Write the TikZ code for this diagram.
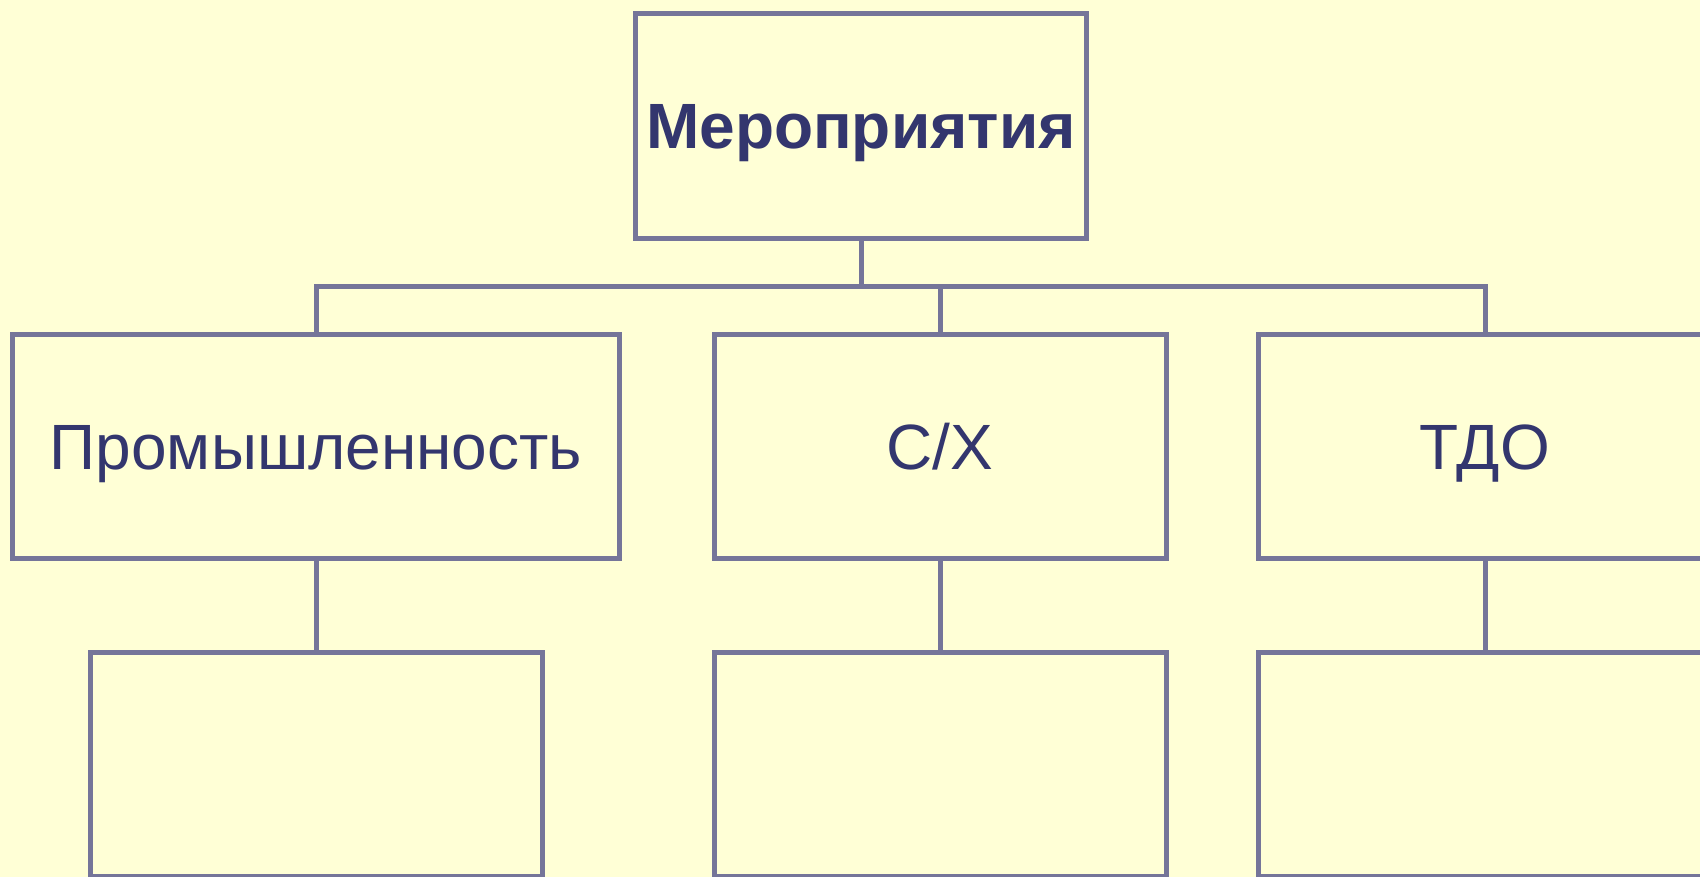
\documentclass[tikz,border=0pt]{standalone}
\usepackage{fontspec}
\setmainfont{Liberation Sans}
\definecolor{bgyellow}{HTML}{FFFFD6}
\definecolor{boxline}{HTML}{757599}
\definecolor{boxtext}{HTML}{33366E}
\tikzset{
  unit/.style={draw=boxline, line width=5pt, fill=bgyellow, text=boxtext,
    inner sep=0pt, minimum height=224pt, minimum width=452pt,
    text height=46pt, text depth=0pt,
    font=\fontsize{64}{72}\selectfont},
  link/.style={draw=boxline, line width=5pt},
}
\begin{document}
\begin{tikzpicture}[x=1pt,y=-1pt]
  \fill[bgyellow] (0,0) rectangle (1700,877);
  \clip (0,0) rectangle (1700,877);
  \draw
    (861,126) node[unit, minimum width=451pt, minimum height=225pt,
      font=\bfseries\fontsize{64}{72}\selectfont] (top){Мероприятия}
    (316,446) node[unit, minimum width=607pt] (ind){Промышленность}
    (940,446) node[unit] (agr){С/Х}
    (1485,446) node[unit, minimum width=454pt] (tdo){ТДО}
    (316,764) node[unit] (indsub){}
    (940,764) node[unit] (agrsub){}
    (1485,764) node[unit, minimum width=454pt] (tdosub){};
  \coordinate (bus) at (861,287);
  \begin{scope}[link]
    \draw (top.south) -- (bus);
    \draw (ind.north) |- (bus) -| (tdo.north);
    \draw (agr.north) |- (bus);
    \draw (ind.south) -- (indsub.north);
    \draw (agr.south) -- (agrsub.north);
    \draw (tdo.south) -- (tdosub.north);
  \end{scope}
\end{tikzpicture}
\end{document}
